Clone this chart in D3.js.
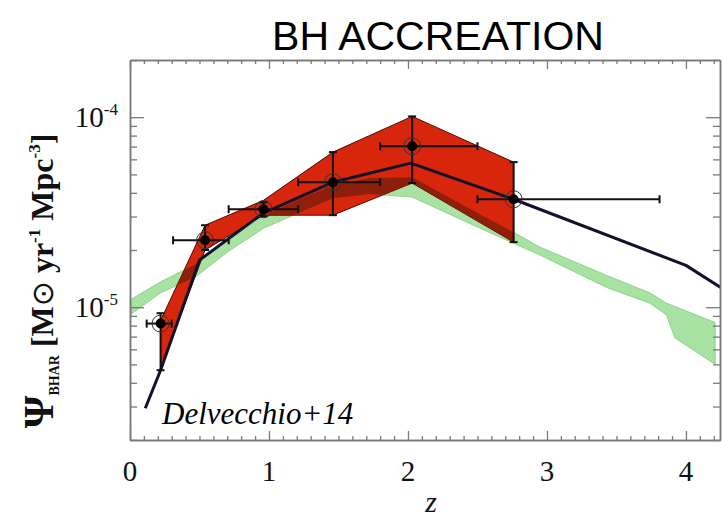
<!DOCTYPE html>
<html><head><meta charset="utf-8">
<script src="https://cdn.jsdelivr.net/npm/d3@7"></script>
<style>body{margin:0;background:#fff} svg{display:block}</style>
</head><body>
<svg id="chart" width="722" height="518"></svg>
<script>
// Black-hole accretion rate density vs redshift

// Hatched (green) band: lower / upper envelope
const greenZ  = [0, 0.22, 0.47, 0.70, 0.96, 1.22, 1.46, 1.73, 2.03, 2.50, 2.76, 2.95, 3.43, 3.74, 3.86, 3.92, 4.21];
const greenHi = [1.09e-5, 1.36e-5, 1.68e-5, 2.25e-5, 3.01e-5, 3.70e-5, 4.39e-5, 4.78e-5, 4.83e-5, 3.13e-5, 2.48e-5, 2.07e-5, 1.47e-5, 1.19e-5, 1.05e-5, 1.01e-5, 8.3e-6];
const greenLo = [9.1e-6, 1.19e-5, 1.44e-5, 1.95e-5, 2.60e-5, 3.15e-5, 3.75e-5, 3.94e-5, 3.80e-5, 2.64e-5, 2.17e-5, 1.88e-5, 1.27e-5, 1.05e-5, 9.1e-6, 6.9e-6, 5.0e-6];

// Red uncertainty band
const bandZ  = [0.22, 0.54, 0.96, 1.46, 2.03, 2.76];
const bandHi = [8.5e-6, 2.7e-5, 3.65e-5, 6.55e-5, 1.01e-4, 5.8e-5];
const bandLo = [4.7e-6, 2.0e-5, 3.05e-5, 3.05e-5, 4.5e-5, 2.2e-5];

// Model curve
const modelZ = [0.11, 0.22, 0.50, 0.96, 1.46, 2.02, 2.76, 4.00, 4.25];
const modelV = [2.94e-6, 4.66e-6, 1.77e-5, 3.13e-5, 4.55e-5, 5.73e-5, 3.7e-5, 1.66e-5, 1.27e-5];

// Measurements with errors
const obsZ   = [0.22, 0.54, 0.96, 1.46, 2.03, 2.76];
const obsV   = [8.2e-6, 2.25e-5, 3.28e-5, 4.55e-5, 7.03e-5, 3.7e-5];
const obsZlo = [0.12, 0.31, 0.71, 1.21, 1.80, 2.50];
const obsZhi = [0.30, 0.71, 1.21, 1.80, 2.50, 3.81];
const obsVlo = [4.66e-6, 2.0e-5, 3.01e-5, 3.05e-5, 4.5e-5, 2.2e-5];
const obsVhi = [9.3e-6, 2.7e-5, 3.57e-5, 6.55e-5, 1.01e-4, 5.8e-5];

// Axis ticks
const xMajor = [0, 1, 2, 3, 4];
const xLabels = ["0", "1", "2", "3", "4"];
const yMajor = [1e-5, 1e-4];
const yLabels = [["10", "-5"], ["10", "-4"]];

const L = 130, R = 720, T = 60, B = 440;
const svg = d3.select("#chart");
const x = d3.scaleLinear().domain([0, 4.245]).range([L, R]);
const y = d3.scaleLog().domain([2e-6, 2e-4]).range([B, T]);

const defs = svg.append("defs");
defs.append("clipPath").attr("id", "plotClip")
  .append("rect").attr("x", L).attr("y", T).attr("width", R - L).attr("height", B - T);
const pat = defs.append("pattern").attr("id", "hatch")
  .attr("patternUnits", "userSpaceOnUse").attr("width", 3).attr("height", 3)
  .attr("patternTransform", "rotate(35)");
pat.append("rect").attr("width", 3).attr("height", 3).attr("fill", "#ace4a6");
pat.append("line").attr("x1", 0).attr("y1", 0).attr("x2", 0).attr("y2", 3)
  .attr("stroke", "#8fd68c").attr("stroke-width", 0.8);

const greenRows = greenZ.map((z, i) => ({z, lo: greenLo[i], hi: greenHi[i]}));
const bandRows = bandZ.map((z, i) => ({z, lo: bandLo[i], hi: bandHi[i]}));
const area = d3.area().x(d => x(d.z)).y0(d => y(d.lo)).y1(d => y(d.hi));

// red band outline used for the overlap tint
defs.append("clipPath").attr("id", "bandClip")
  .append("path").attr("d", area(bandRows));

const plot = svg.append("g").attr("clip-path", "url(#plotClip)");

plot.append("path").attr("d", area(greenRows))
  .attr("fill", "url(#hatch)").attr("stroke", "#7ccb7a").attr("stroke-width", 0.8);

plot.append("path").attr("d", area(bandRows))
  .attr("fill", "#d8260c").attr("stroke", "#4a0c04").attr("stroke-width", 1);

plot.append("path").attr("d", area(greenRows))
  .attr("clip-path", "url(#bandClip)").attr("fill", "#8e1f0b");

plot.append("path")
  .attr("d", d3.line().x(d => x(d[0])).y(d => y(d[1]))(modelZ.map((z, i) => [z, modelV[i]])))
  .attr("fill", "none").attr("stroke", "#12122c").attr("stroke-width", 3)
  .attr("stroke-linejoin", "round");

// error bars
const eb = plot.append("g").attr("stroke", "#111").attr("stroke-width", 2);
obsZ.forEach((z, i) => {
  const cx = x(z), cy = y(obsV[i]);
  eb.append("line").attr("x1", x(obsZlo[i])).attr("x2", x(obsZhi[i])).attr("y1", cy).attr("y2", cy);
  eb.append("line").attr("x1", cx).attr("x2", cx).attr("y1", y(obsVlo[i])).attr("y2", y(obsVhi[i]));
  [obsZlo[i], obsZhi[i]].forEach(zz => eb.append("line")
    .attr("x1", x(zz)).attr("x2", x(zz)).attr("y1", cy - 4).attr("y2", cy + 4));
  [obsVlo[i], obsVhi[i]].forEach(vv => eb.append("line")
    .attr("x1", cx - 4).attr("x2", cx + 4).attr("y1", y(vv)).attr("y2", y(vv)));
});
const mk = plot.append("g");
obsZ.forEach((z, i) => {
  mk.append("circle").attr("cx", x(z)).attr("cy", y(obsV[i])).attr("r", 8.5)
    .attr("fill", "none").attr("stroke", "#333").attr("stroke-width", 1);
  mk.append("circle").attr("cx", x(z)).attr("cy", y(obsV[i])).attr("r", 5).attr("fill", "#000");
});

// frame and ticks
const axisColor = "#7a7a7a";
const xMinor = d3.range(0, 43).map(i => i / 10).filter(v => !xMajor.includes(v));
const yMinor = [];
[1e-6, 1e-5, 1e-4].forEach(dec => d3.range(1, 10).forEach(m => {
  const v = m * dec;
  if (v >= 2e-6 && v <= 2e-4 && !yMajor.some(t => Math.abs(t - v) < 1e-12)) yMinor.push(v);
}));

function tickAxis(gen, transform, values, size) {
  const g = svg.append("g").attr("transform", transform)
    .call(gen.tickValues(values).tickSize(-size).tickSizeOuter(0).tickFormat(""));
  g.select(".domain").attr("stroke", axisColor).attr("stroke-width", 1.5);
  g.selectAll(".tick line").attr("stroke", axisColor).attr("stroke-width", 1.3);
  return g;
}
tickAxis(d3.axisBottom(x), `translate(0,${B})`, xMinor, 4);
tickAxis(d3.axisBottom(x), `translate(0,${B})`, xMajor, 9);
tickAxis(d3.axisTop(x), `translate(0,${T})`, xMinor, 4);
tickAxis(d3.axisTop(x), `translate(0,${T})`, xMajor, 9);
tickAxis(d3.axisLeft(y), `translate(${L},0)`, yMinor, 7);
tickAxis(d3.axisLeft(y), `translate(${L},0)`, yMajor, 14);
tickAxis(d3.axisRight(y), `translate(${R},0)`, yMinor, 7);
tickAxis(d3.axisRight(y), `translate(${R},0)`, yMajor, 14);

const serif = "Liberation Serif, Times New Roman, serif";

// x tick labels
svg.append("g").selectAll("text").data(xMajor).join("text")
  .attr("x", d => x(d)).attr("y", 481).attr("text-anchor", "middle")
  .attr("font-family", serif).attr("font-size", 29).attr("fill", "#111")
  .text((d, i) => xLabels[i]);

// y tick labels
yMajor.forEach((v, i) => {
  const t = svg.append("text").attr("x", 118).attr("y", y(v) + 10).attr("text-anchor", "end")
    .attr("font-family", serif).attr("font-size", 29).attr("fill", "#111");
  t.append("tspan").text(yLabels[i][0]);
  t.append("tspan").attr("font-size", 17).attr("dy", -12).text(yLabels[i][1]);
});

// axis titles
svg.append("text").attr("x", 431).attr("y", 512).attr("text-anchor", "middle")
  .attr("font-family", serif).attr("font-style", "italic").attr("font-size", 30)
  .attr("fill", "#111").text("z");

const yl = svg.append("text").attr("transform", "translate(53,281) rotate(-90)")
  .attr("text-anchor", "middle").attr("font-family", serif).attr("font-weight", "bold")
  .attr("font-size", 32).attr("fill", "#111");
yl.append("tspan").attr("font-size", 42).text("Ψ");
yl.append("tspan").attr("font-size", 14).attr("dy", 6).text("BHAR");
yl.append("tspan").attr("dy", -6).text(" [M");
yl.append("tspan").attr("font-family", "DejaVu Sans, sans-serif").attr("font-weight", "normal").attr("font-size", 30).text("⊙");
yl.append("tspan").text(" yr");
yl.append("tspan").attr("font-size", 17).attr("dy", -13).text("-1");
yl.append("tspan").attr("dy", 13).text("  Mpc");
yl.append("tspan").attr("font-size", 17).attr("dy", -13).text("-3");
yl.append("tspan").attr("dy", 13).text("]");

// title and reference tag
svg.append("text").attr("x", 438).attr("y", 50).attr("text-anchor", "middle")
  .attr("font-family", "Liberation Sans, Arial, sans-serif")
  .attr("font-size", 41).attr("fill", "#000").text("BH ACCREATION");

svg.append("text").attr("x", 162).attr("y", 424)
  .attr("font-family", serif).attr("font-style", "italic").attr("font-size", 31)
  .attr("fill", "#000").text("Delvecchio+14");
</script>
</body></html>
